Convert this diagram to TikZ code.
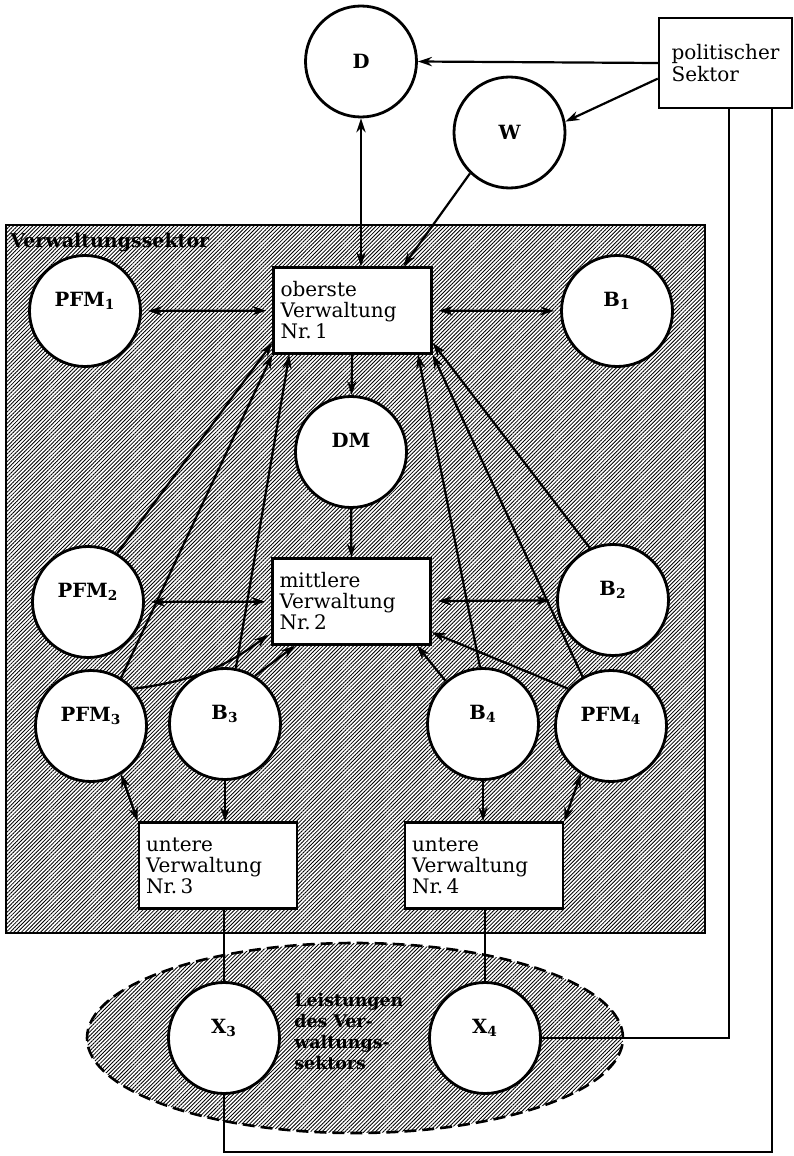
\documentclass[tikz,border=0pt]{standalone}
\usepackage{fontspec}
\setmainfont{DejaVu Serif}
\usetikzlibrary{arrows.meta,patterns.meta,shapes.geometric}

\begin{document}
\begin{tikzpicture}[x=0.5pt, y=-0.5pt,
every node/.style={inner sep=0pt},
hatch/.style={pattern={Lines[angle=45,distance=1.35pt,line width=0.42pt]}},
kreis/.style={circle, draw, line width=1.4pt, fill=white, minimum size=55.5pt,
    font=\bfseries\fontsize{9.8}{10}\selectfont},
kreisoben/.style={kreis, text depth=12pt},
verw/.style={rectangle, draw, line width=1.2pt, fill=white, minimum width=79pt,
    minimum height=43pt, text width=72pt, align=left,
    font=\fontsize{10}{10.5}\selectfont},
pfeil/.style={line width=1.1pt, -{Stealth[length=7pt,width=4.6pt]}},
dpfeil/.style={line width=1.1pt, {Stealth[length=7pt,width=4.6pt]}-{Stealth[length=7pt,width=4.6pt]}}
]
\useasboundingbox (0,0) rectangle (793,1156);

% Verwaltungssektor
\draw [hatch, line width=1.2pt] (6,225) rectangle (705,933);
\node [anchor=base west, font=\bfseries\fontsize{9.5}{10}\selectfont] (vsek) at (10,247) {Verwaltungssektor};

% Leistungen
\node [ellipse, draw, hatch, dash pattern=on 6pt off 3pt, line width=1.3pt,
       minimum width=268pt, minimum height=95pt] (leist) at (355,1038) {};
\node [anchor=north west, align=left, font=\bfseries\fontsize{8.7}{10.5}\selectfont] (leisttext) at (294,993)
      {Leistungen\\des Ver-\\waltungs-\\sektors};

\node [kreis] (D) at (361,61.5) {D};
\node [kreis] (W) at (509.5,132.5) {W};
\node [rectangle, draw, line width=1.2pt, minimum width=66.5pt, minimum height=45pt,
       align=left, font=\fontsize{10}{11}\selectfont] (pol) at (725.5,63) {politischer\\Sektor};

\node [verw] (box1) at (352.5,310.5) {oberste\\Verwaltung\\Nr.\,1};
\node [verw] (box2) at (351.5,601.5) {mittlere\\Verwaltung\\Nr.\,2};
\node [verw] (box3) at (218,865.5) {untere\\Verwaltung\\Nr.\,3};
\node [verw] (box4) at (484,865.5) {untere\\Verwaltung\\Nr.\,4};

\node [kreisoben] (PFM1) at (85,311) {PFM\textsubscript{1}};
\node [kreisoben] (B1) at (617,311) {B\textsubscript{1}};
\node [kreisoben] (DM) at (351,452) {DM};
\node [kreisoben] (PFM2) at (88,602) {PFM\textsubscript{2}};
\node [kreisoben] (B2) at (613,600) {B\textsubscript{2}};
\node [kreisoben] (PFM3) at (91,726) {PFM\textsubscript{3}};
\node [kreisoben] (B3) at (225,724) {B\textsubscript{3}};
\node [kreisoben] (B4) at (483,724) {B\textsubscript{4}};
\node [kreisoben] (PFM4) at (611,726) {PFM\textsubscript{4}};
\node [kreisoben] (X3) at (224,1038) {X\textsubscript{3}};
\node [kreisoben] (X4) at (485,1038) {X\textsubscript{4}};

\coordinate (polA) at (729,108);
\coordinate (polB) at (772,108);
\coordinate (ecke) at (772,1152);

\foreach \i/\j in {pol.west/D.east, pol.193/W.11, W.226/box1.41,
                   box1/DM, DM/box2,%
                   PFM2.59/box1.202, PFM3.58/box1.south west, B3.79/box1.215,%
                   B4.93/box1.-34, PFM4.120/box1.south east, B2.114/box1.-22,%
                   B3.58/box2.218, B4.131/box2.-34, PFM4.139/box2.-21,%
                   B3.south/B3.south |- box3.north, B4.south/B4.south |- box4.north%
            }
    \draw [pfeil] (\i) -- (\j);

\draw [pfeil, shorten >=2pt] (PFM3.41) to[bend right=15] (box2.201);

\foreach \i/\j in {D.south/D.south |- box1.north,
                   PFM3.-58/box3.north west, PFM4.-122/box4.north east%
            }
    \draw [dpfeil] (\i) -- (\j);

\foreach \i/\j in {PFM1/box1, box1/B1, PFM2/box2, box2/B2}
    \draw [dpfeil, shorten <=3pt, shorten >=3pt] (\i) -- (\j);

\draw [line width=1.1pt] (X3.north |- box3.south) -- (X3.north);
\draw [line width=1.1pt] (X4.north |- box4.south) -- (X4.north);
\draw [line width=1.1pt] (X4.east) -| (polA);
\draw [line width=1.1pt] (X3.south) |- (ecke) -- (polB);

\end{tikzpicture}
\end{document}
